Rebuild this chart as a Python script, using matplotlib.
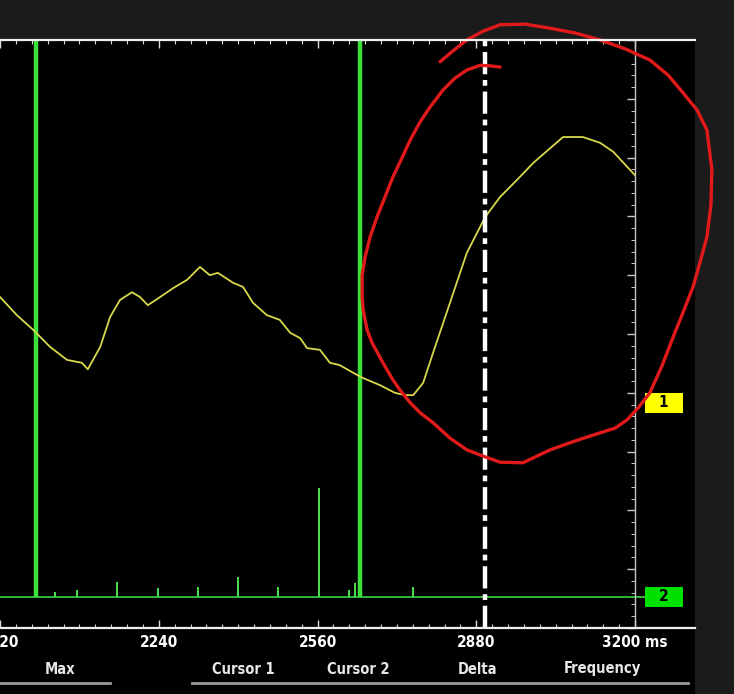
import matplotlib
matplotlib.use("Agg")
import matplotlib.pyplot as plt
from matplotlib.lines import Line2D
from matplotlib.patches import Rectangle
import numpy as np

# channel 1 trace (ms, divisions)
ch1_t = [1920, 1954, 1987, 2021, 2055, 2085, 2097, 2122, 2142, 2162, 2186, 2202,
         2218, 2243, 2269, 2297, 2323, 2343, 2359, 2390, 2410, 2430, 2458, 2484,
         2505, 2525, 2539, 2565, 2585, 2605, 2632, 2652, 2686, 2716, 2736, 2753,
         2773, 2793, 2827, 2861, 2898, 2928, 2962, 2995, 3029, 3055, 3095, 3130,
         3156, 3200]
ch1_v = [5.63, 5.32, 5.07, 4.78, 4.56, 4.51, 4.40, 4.78, 5.29, 5.58, 5.71, 5.63,
         5.49, 5.63, 5.78, 5.92, 6.14, 6.00, 6.04, 5.87, 5.80, 5.53, 5.32, 5.24,
         5.02, 4.93, 4.76, 4.73, 4.51, 4.47, 4.34, 4.25, 4.13, 4.00, 3.96, 3.96,
         4.17, 4.68, 5.53, 6.38, 6.99, 7.33, 7.62, 7.91, 8.16, 8.35, 8.35, 8.25,
         8.10, 7.70]

# channel 2: baseline, small spikes and the two clipped pulses
ch2_base = 0.53
ch2_spike_t = [2031, 2075, 2156, 2239, 2319, 2400, 2480, 2563, 2624, 2636, 2753]
ch2_spike_v = [0.61, 0.65, 0.78, 0.68, 0.70, 0.87, 0.70, 2.38, 0.65, 0.77, 0.70]
ch2_pulse_t = [1993, 2646]
ch2_pulse_v = [10, 10]

ch1_ref = 3.83
cursor_t = 2898

tick_pos = [1920, 2240, 2560, 2880, 3200]
tick_lab = ["1920", "2240", "2560", "2880", "3200 ms"]
meas_names = ["Max", "Cursor 1", "Cursor 2", "Delta", "Frequency"]

# hand-drawn red loop (ms, divisions)
loop_t = [2807, 2831, 2861, 2894, 2928, 2978, 3029, 3079, 3130, 3180, 3230, 3267,
          3297, 3325, 3345, 3355, 3353, 3345, 3331, 3317, 3297, 3277, 3255, 3230,
          3206, 3184, 3160, 3130, 3079, 3029, 2999, 2974, 2928, 2898, 2861, 2827,
          2793, 2767, 2747, 2726, 2712, 2692, 2670, 2660, 2652, 2650, 2650, 2656,
          2666, 2680, 2696, 2712, 2730, 2747, 2767, 2787, 2813, 2837, 2861, 2888,
          2908, 2928]
loop_v = [9.63, 9.80, 10.0, 10.15, 10.26, 10.27, 10.20, 10.12, 10.0, 9.85, 9.66, 9.40,
          9.10, 8.81, 8.47, 7.79, 7.19, 6.65, 6.22, 5.80, 5.37, 4.95, 4.47, 4.00,
          3.74, 3.54, 3.40, 3.32, 3.18, 3.03, 2.91, 2.81, 2.82, 2.91, 3.03, 3.23,
          3.49, 3.66, 3.83, 4.05, 4.22, 4.51, 4.85, 5.07, 5.41, 5.63, 6.00, 6.31,
          6.65, 6.99, 7.33, 7.67, 7.99, 8.30, 8.61, 8.86, 9.15, 9.35, 9.49, 9.57,
          9.56, 9.54]

W, H = 734, 694
plt.rcParams['font.family'] = ['Liberation Sans Narrow', 'DejaVu Sans']
plt.rcParams['font.stretch'] = 'condensed'

fig = plt.figure(figsize=(W / 100, H / 100), dpi=100)
fig.patch.set_facecolor("#1b1b1b")

# black screen area
fig.patches.append(Rectangle((0, 0), 695 / W, (H - 40) / H, transform=fig.transFigure,
                             facecolor="black", edgecolor="none", zorder=-5))

ax = fig.add_axes([0, (H - 628) / H, 635 / W, 588 / H])
ax.set_zorder(1)
ax.set_facecolor("black")
ax.set_xlim(1920, 3200)
ax.set_ylim(0, 10)

ax.plot(ch1_t, ch1_v, color="#d9d84c", lw=1.3, zorder=3)

# ch2 baseline runs out to its marker box
ax.plot([1920, 3220], [ch2_base, ch2_base], color="#3cd43c", lw=1.2, zorder=2,
        clip_on=False)
ax.vlines(ch2_spike_t, ch2_base, ch2_spike_v, color="#4fe04f", lw=1.4, zorder=2)
ax.vlines(ch2_pulse_t, ch2_base, ch2_pulse_v, color="#3be03b", lw=3.2, zorder=2)

ax.axvline(cursor_t, color="white", lw=3.2, dashes=[5, 1.3, 1.3, 1.3], zorder=4)

ax.plot(loop_t, loop_v, color="#e01a1a", lw=2.4, clip_on=False, zorder=6,
        solid_capstyle="round", solid_joinstyle="round")

# spines and ticks
ax.spines["left"].set_visible(False)
ax.spines["right"].set_color("#c8c8c8")
ax.spines["right"].set_linewidth(1)
ax.spines["top"].set_visible(False)
ax.spines["bottom"].set_visible(False)

ax.set_xticks(tick_pos)
ax.set_xticklabels(tick_lab)
ax.set_xticks(np.arange(1920, 3201, 32), minor=True)
ax.tick_params(axis="x", which="both", direction="in", colors="#dddddd",
               top=True, bottom=True, labelsize=11, pad=5)
ax.tick_params(axis="x", which="major", length=6, width=1)
ax.tick_params(axis="x", which="minor", length=3, width=0.8)
for lab in ax.get_xticklabels():
    lab.set_fontweight("bold")
    lab.set_color("white")

ax.set_yticks(np.arange(0, 10.01, 1))
ax.set_yticks(np.arange(0, 10.01, 0.2), minor=True)
ax.tick_params(axis="y", which="both", direction="in", colors="#c8c8c8",
               left=False, right=True, labelleft=False)
ax.tick_params(axis="y", which="major", length=6, width=1)
ax.tick_params(axis="y", which="minor", length=3, width=0.7)

# top and bottom frame lines running across the whole screen
fig.lines.append(Line2D([0, 695 / W], [(H - 40) / H] * 2, transform=fig.transFigure,
                        color="#f0f0f0", lw=1.6, zorder=5))
fig.lines.append(Line2D([0, 695 / W], [(H - 628) / H] * 2, transform=fig.transFigure,
                        color="#f0f0f0", lw=1.6, zorder=5))

# channel markers (boxes sit right of the grid at each channel's reference level)
for lvl, name, col in [(ch1_ref, "1", "#ffff00"), (ch2_base, "2", "#00e000")]:
    ax.add_patch(Rectangle((1.016, lvl - 0.17), 0.06, 0.34,
                           transform=ax.get_yaxis_transform(), facecolor=col,
                           edgecolor="none", clip_on=False, zorder=5))
    ax.text(1.045, lvl, name, transform=ax.get_yaxis_transform(), ha="center",
            va="center", fontsize=11, fontweight="bold", color="black", zorder=6,
            clip_on=False)

# measurement header
meas_x = [60, 243, 358, 478, 602]
for name, x in zip(meas_names, meas_x):
    fig.text(x / W, (H - 669) / H, name, ha="center", va="center", fontsize=10.5,
             fontweight="bold", color="#e6e6e6")
fig.lines.append(Line2D([0, 110 / W], [(H - 683) / H] * 2, transform=fig.transFigure,
                        color="#9a9a9a", lw=2))
fig.lines.append(Line2D([192 / W, 688 / W], [(H - 683) / H] * 2,
                        transform=fig.transFigure, color="#9a9a9a", lw=2))

fig.savefig("out.png", dpi=100, facecolor=fig.get_facecolor())
